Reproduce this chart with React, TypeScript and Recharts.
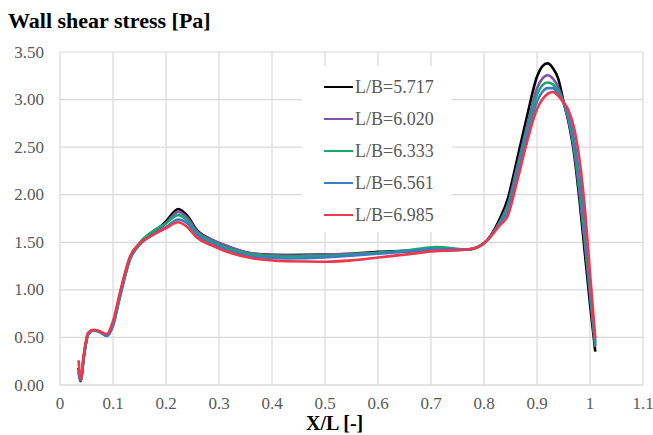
import React from "react";
import { LineChart, Line, XAxis, YAxis, CartesianGrid, Legend } from "recharts";

const xPositions = [
  0.035, 0.039, 0.045, 0.053, 0.063, 0.075, 0.088, 0.1, 0.113, 0.132, 0.151, 0.176, 0.2, 0.223, 0.24,
  0.258, 0.285, 0.315, 0.365, 0.43, 0.5, 0.55, 0.6, 0.65, 0.71, 0.77, 0.8, 0.83, 0.845, 0.862, 0.881,
  0.9, 0.91, 0.92, 0.93, 0.94, 0.95, 0.96, 0.97, 0.98, 0.99, 1.0, 1.01,
];

const lb5717 = [
  0.18, 0.04, 0.3, 0.53, 0.575, 0.56, 0.52, 0.64, 0.95, 1.33, 1.49, 1.6, 1.72, 1.85, 1.78,
  1.63, 1.53, 1.46, 1.38, 1.365, 1.37, 1.38, 1.4, 1.41, 1.43, 1.425, 1.49, 1.75, 1.96, 2.36, 2.82,
  3.24, 3.35, 3.38, 3.33, 3.22, 2.98, 2.75, 2.43, 1.95, 1.4, 0.85, 0.35,
];
const lb6020 = [
  0.12, 0.05, 0.3, 0.53, 0.575, 0.56, 0.52, 0.63, 0.93, 1.32, 1.48, 1.59, 1.7, 1.82, 1.76,
  1.62, 1.53, 1.46, 1.38, 1.36, 1.37, 1.38, 1.39, 1.4, 1.41, 1.425, 1.49, 1.72, 1.9, 2.28, 2.72,
  3.12, 3.22, 3.255, 3.22, 3.13, 2.97, 2.77, 2.47, 2.02, 1.5, 0.95, 0.4,
];
const lb6333 = [
  0.16, 0.06, 0.31, 0.54, 0.575, 0.56, 0.525, 0.64, 0.94, 1.33, 1.5, 1.62, 1.7, 1.785, 1.73,
  1.6, 1.51, 1.44, 1.37, 1.35, 1.355, 1.37, 1.39, 1.41, 1.45, 1.425, 1.49, 1.71, 1.87, 2.24, 2.67,
  3.05, 3.15, 3.18, 3.16, 3.09, 2.97, 2.79, 2.52, 2.1, 1.58, 1.0, 0.42,
];
const lb6561 = [
  0.14, 0.05, 0.3, 0.53, 0.57, 0.555, 0.515, 0.62, 0.92, 1.32, 1.48, 1.58, 1.66, 1.74, 1.7,
  1.58, 1.49, 1.42, 1.35, 1.33, 1.34, 1.36, 1.38, 1.4, 1.43, 1.425, 1.49, 1.7, 1.83, 2.2, 2.62,
  2.98, 3.08, 3.12, 3.12, 3.06, 2.97, 2.82, 2.58, 2.2, 1.68, 1.07, 0.45,
];
const lb6985 = [
  0.26, 0.06, 0.32, 0.55, 0.58, 0.565, 0.535, 0.67, 0.97, 1.35, 1.49, 1.58, 1.65, 1.71, 1.66,
  1.55, 1.47, 1.4, 1.33, 1.3, 1.295, 1.31, 1.34, 1.37, 1.41, 1.425, 1.49, 1.68, 1.78, 2.13, 2.55,
  2.9, 3.0, 3.06, 3.08, 3.04, 2.97, 2.88, 2.7, 2.38, 1.88, 1.18, 0.49,
];

const seriesNames = ["L/B=5.717", "L/B=6.020", "L/B=6.333", "L/B=6.561", "L/B=6.985"];
const seriesValues = [lb5717, lb6020, lb6333, lb6561, lb6985];
const seriesColors = ["#000000", "#7f52ad", "#17a86c", "#3b7dc4", "#f0384a"];

const xTicks = [0, 0.1, 0.2, 0.3, 0.4, 0.5, 0.6, 0.7, 0.8, 0.9, 1.0, 1.1];
const yTicks = [0, 0.5, 1.0, 1.5, 2.0, 2.5, 3.0, 3.5];

const tableData = xPositions.map((x, i) => {
  const row: Record<string, number> = { x };
  seriesNames.forEach((n, k) => {
    row[n] = seriesValues[k][i];
  });
  return row;
});

const FONT = "'Liberation Serif', 'DejaVu Serif', serif";

const XTick = (props: any) => {
  const { x, y, payload } = props;
  return (
    <text
      x={x}
      y={y}
      textAnchor="middle"
      dominantBaseline="central"
      style={{ fontFamily: FONT, fontSize: 17, fill: "#595959" }}
    >
      {String(Math.round(payload.value * 10) / 10)}
    </text>
  );
};

const YTick = (props: any) => {
  const { x, y, payload } = props;
  return (
    <text
      x={x}
      y={y}
      textAnchor="end"
      dominantBaseline="central"
      style={{ fontFamily: FONT, fontSize: 17, fill: "#595959" }}
    >
      {Number(payload.value).toFixed(2)}
    </text>
  );
};

const renderLegend = () => (
  <div
    style={{
      background: "#ffffff",
      width: 150,
      height: 166,
      boxSizing: "border-box",
      paddingTop: 5,
      paddingLeft: 22,
    }}
  >
    {seriesNames.map((n, k) => (
      <div
        key={n}
        style={{ display: "flex", alignItems: "center", height: 32, fontFamily: FONT, fontSize: 18, color: "#595959" }}
      >
        <div style={{ width: 29, height: 2.5, background: seriesColors[k], marginRight: 2 }} />
        <span>{n}</span>
      </div>
    ))}
  </div>
);

export default function App() {
  return (
    <div style={{ position: "absolute", left: 0, top: 0, width: 653, height: 435, background: "#fff", fontFamily: FONT }}>
      <div
        style={{
          position: "absolute",
          left: 8,
          top: 8,
          fontFamily: FONT,
          fontWeight: "bold",
          fontSize: 22,
          color: "#000",
          whiteSpace: "nowrap",
          lineHeight: "26px",
        }}
      >
        Wall shear stress [Pa]
      </div>
      <div
        style={{
          position: "absolute",
          left: 306,
          top: 415,
          fontFamily: FONT,
          fontWeight: "bold",
          fontSize: 20,
          color: "#000",
          whiteSpace: "nowrap",
          lineHeight: "17px",
        }}
      >
        X/L [-]
      </div>
      <LineChart width={653} height={435} data={tableData} margin={{ top: 52, right: 10, left: 10, bottom: 0 }}>
        <CartesianGrid stroke="#d9d9d9" strokeWidth={1.2} vertical={true} horizontal={true} verticalValues={xTicks} />
        <XAxis
          dataKey="x"
          type="number"
          domain={[0, 1.1]}
          ticks={xTicks}
          allowDataOverflow
          height={50}
          tickLine={false}
          axisLine={{ stroke: "#d9d9d9", strokeWidth: 1.2 }}
          tickSize={0}
          tickMargin={18}
          tick={<XTick />}
        />
        <YAxis
          type="number"
          domain={[0, 3.5]}
          ticks={yTicks}
          width={50}
          tickLine={false}
          axisLine={false}
          tickSize={0}
          tickMargin={16}
          tick={<YTick />}
        />
        <Legend
          layout="vertical"
          align="center"
          verticalAlign="middle"
          content={renderLegend}
          wrapperStyle={{ position: "absolute", left: 302, top: 66, width: 150, height: 166 }}
        />
        {seriesNames.map((n, k) => (
          <Line
            key={n}
            dataKey={n}
            name={n}
            type="monotone"
            stroke={seriesColors[k]}
            strokeWidth={2.6}
            dot={false}
            activeDot={false}
            isAnimationActive={false}
          />
        ))}
      </LineChart>
    </div>
  );
}
